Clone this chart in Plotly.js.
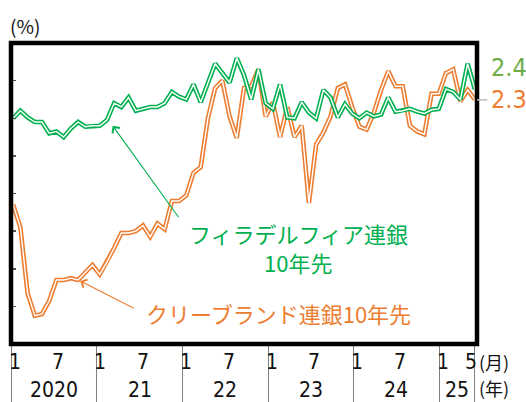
<!DOCTYPE html>
<html><head><meta charset="utf-8">
<script src="https://cdn.plot.ly/plotly-3.0.1.min.js"></script>
<style>html,body{margin:0;padding:0;background:#fff;}</style>
</head><body><div id="chart" style="width:526px;height:402px;"></div>
<script>
// ---- data ----
const years = ['2020','21','22','23','24','25'];
const monthsPerYear = [12,12,12,12,12,5];
const monthLabelsPerYear = [[1,7],[1,7],[1,7],[1,7],[1,7],[1,5]];
const philadelphia10y = [
 2.20,2.24,2.205,2.18,2.18,2.12,2.13,2.10,2.145,2.18,
 2.155,2.16,2.16,2.19,2.28,2.26,2.31,2.24,2.25,2.26,
 2.26,2.28,2.34,2.315,2.30,2.38,2.285,2.385,2.49,2.44,
 2.39,2.52,2.43,2.30,2.46,2.28,2.25,2.38,2.205,2.20,
 2.285,2.23,2.20,2.35,2.31,2.205,2.275,2.225,2.20,2.23,
 2.21,2.22,2.31,2.235,2.24,2.25,2.235,2.225,2.245,2.25,
 2.355,2.34,2.30,2.49,2.355];
const cleveland10y = [
 1.74,1.62,1.27,1.15,1.16,1.23,1.34,1.34,1.35,1.34,
 1.38,1.42,1.37,1.435,1.51,1.59,1.59,1.60,1.63,1.57,
 1.64,1.61,1.76,1.76,1.79,1.91,1.94,2.20,2.36,2.40,
 2.21,2.095,2.36,2.37,2.46,2.21,2.285,2.10,2.26,2.10,
 2.16,1.75,2.06,2.125,2.21,2.36,2.38,2.26,2.155,2.14,
 2.23,2.35,2.45,2.37,2.37,2.16,2.13,2.115,2.33,2.33,
 2.44,2.46,2.29,2.35,2.30];
const lastLabels = ['2.4','2.3'];
const philadelphiaName = ['フィラデルフィア連銀','10年先'];
const clevelandName = 'クリーブランド連銀10年先';

// ---- build ----
const idx = cleveland10y.map((_, i) => i);
const GREEN = '#00B050', ORANGE = '#ED7D31';
const NARROW = '"Liberation Sans Narrow","DejaVu Sans Condensed","Noto Sans CJK JP",sans-serif';
const CJK = '"Noto Sans CJK JP","Noto Sans",sans-serif';

function dbl(y, color) {
  return [
    {x: idx, y: y, mode: 'lines', line: {color: color, width: 4.6}, hoverinfo: 'skip', showlegend: false},
    {x: idx, y: y, mode: 'lines', line: {color: '#ffffff', width: 1.4}, hoverinfo: 'skip', showlegend: false}
  ];
}
const traces = [...dbl(cleveland10y, ORANGE), ...dbl(philadelphia10y, GREEN),
  {x: [0], y: [null], xaxis: 'x2', yaxis: 'y', mode: 'markers', hoverinfo: 'skip', showlegend: false}];

// year boundaries in month cells
const bounds = [0];
monthsPerYear.forEach(n => bounds.push(bounds[bounds.length - 1] + n));

const ann = [];
years.forEach((yr, k) => {
  const start = bounds[k], end = bounds[k + 1];
  ann.push({xref: 'x2', yref: 'paper', x: (start + end) / 2, y: 0, yanchor: 'middle', yshift: -46,
    text: yr, showarrow: false, font: {family: NARROW, size: 21, color: '#111'}});
  monthLabelsPerYear[k].forEach(m => {
    ann.push({xref: 'x2', yref: 'paper', x: start + m - 0.5, y: 0, yanchor: 'middle', yshift: -18,
      text: String(m), showarrow: false, font: {family: NARROW, size: 21, color: '#111'}});
  });
});
ann.push({xref: 'paper', yref: 'paper', x: 1.0, y: 0, xanchor: 'left', yanchor: 'middle', yshift: -18,
  text: '(月)', showarrow: false, font: {family: CJK, size: 18, color: '#111'}});
ann.push({xref: 'paper', yref: 'paper', x: 1.0, y: 0, xanchor: 'left', yanchor: 'middle', yshift: -44,
  text: '(年)', showarrow: false, font: {family: CJK, size: 18, color: '#111'}});
ann.push({xref: 'paper', yref: 'paper', x: -0.006, y: 1, xanchor: 'left', yanchor: 'middle', yshift: 18,
  text: '(%)', showarrow: false, font: {family: CJK, size: 19, color: '#111'}});
// right-end labels
ann.push({xref: 'paper', yref: 'paper', x: 1.025, y: 0.92, xanchor: 'left', yanchor: 'middle',
  text: lastLabels[0], showarrow: false, font: {family: NARROW, size: 25, color: '#70AD47'}});
ann.push({xref: 'paper', yref: 'paper', x: 1.025, y: 0.811, xanchor: 'left', yanchor: 'middle',
  text: lastLabels[1], showarrow: false, font: {family: NARROW, size: 25, color: ORANGE}});
// series names
ann.push({xref: 'paper', yref: 'paper', x: 0.616, y: 0.368, xanchor: 'center', yanchor: 'middle',
  text: philadelphiaName[0], showarrow: false, font: {family: CJK, size: 22, color: GREEN}});
ann.push({xref: 'paper', yref: 'paper', x: 0.616, y: 0.272, xanchor: 'center', yanchor: 'middle',
  text: philadelphiaName[1], showarrow: false, font: {family: CJK, size: 22, color: GREEN}});
ann.push({xref: 'paper', yref: 'paper', x: 0.575, y: 0.103, xanchor: 'center', yanchor: 'middle',
  text: clevelandName, showarrow: false, font: {family: CJK, size: 22, color: ORANGE}});
// arrows
ann.push({xref: 'x', yref: 'y', x: 13.8, y: 2.16, ax: 67, ay: 93, axref: 'pixel', ayref: 'pixel',
  text: '', showarrow: true, arrowhead: 4, arrowsize: 1.6, arrowwidth: 1.1, arrowcolor: GREEN});
ann.push({xref: 'x', yref: 'y', x: 9.3, y: 1.335, ax: 55, ay: 28, axref: 'pixel', ayref: 'pixel',
  text: '', showarrow: true, arrowhead: 4, arrowsize: 1.6, arrowwidth: 1.1, arrowcolor: ORANGE});

const layout = {
  width: 526, height: 402,
  margin: {l: 11, r: 49, t: 43, b: 58, pad: 0},
  paper_bgcolor: '#fff', plot_bgcolor: '#fff',
  showlegend: false,
  xaxis: {range: [-0.3, 64.3], showticklabels: false, ticks: '', showgrid: false, zeroline: false, showline: false, fixedrange: true},
  xaxis2: {overlaying: 'x', side: 'bottom', range: [-0.04, 65.29], tickmode: 'array', tickvals: bounds,
    ticks: 'outside', ticklen: 58, tickwidth: 1, tickcolor: '#7f7f7f', showticklabels: false,
    showgrid: false, zeroline: false, showline: false},
  yaxis: {range: [1.0, 2.6], tickmode: 'array', tickvals: [1.2,1.4,1.6,1.8,2.0,2.2,2.4],
    ticks: 'inside', ticklen: 5, tickwidth: 1.5, tickcolor: '#555', showticklabels: false,
    showgrid: false, zeroline: false, showline: false},
  shapes: [
    {type: 'rect', xref: 'paper', yref: 'paper', x0: 0, x1: 1, y0: 0, y1: 1, line: {color: '#000', width: 4.5}, layer: 'above'},
    {type: 'line', xref: 'paper', yref: 'paper', x0: 1.0, x1: 1.022, y0: 0.811, y1: 0.811, line: {color: '#bbb', width: 1.5}}
  ],
  annotations: ann
};
Plotly.newPlot('chart', traces, layout, {displayModeBar: false, staticPlot: true});
</script></body></html>
